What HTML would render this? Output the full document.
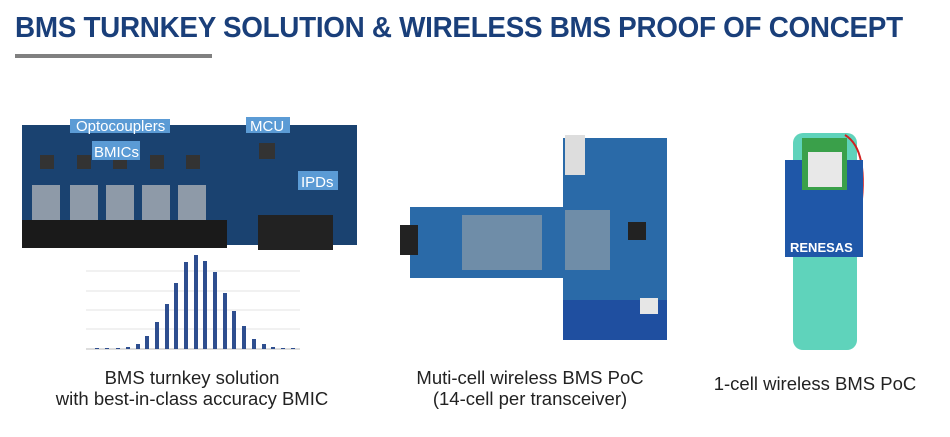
<!DOCTYPE html>
<html><head><style>
body{margin:0;width:950px;height:437px;background:#fff;overflow:hidden;position:relative;font-family:"Liberation Sans",sans-serif}
.t{position:absolute;left:15px;top:12px;font-weight:bold;font-size:29px;color:#1a3f7a;transform:scaleX(0.96);transform-origin:left top;white-space:nowrap;letter-spacing:-0.3px}
.u{position:absolute;left:15px;top:54px;width:197px;height:4px;background:#808080}
.c{position:absolute;font-size:18.5px;color:#222;text-align:center;line-height:21px}
</style></head><body>
<div class="t">BMS TURNKEY SOLUTION &amp; WIRELESS BMS PROOF OF CONCEPT</div>
<div class="u"></div>
<svg width="950" height="437" style="position:absolute;left:0;top:0">
<rect x="22" y="125" width="335" height="120" fill="#1a4270"/>
<rect x="22" y="220" width="205" height="28" fill="#1a1a1a"/>
<rect x="258" y="215" width="75" height="35" fill="#222"/>
<g fill="#8e9aa8">
<rect x="32" y="185" width="28" height="35"/><rect x="70" y="185" width="28" height="35"/><rect x="106" y="185" width="28" height="35"/><rect x="142" y="185" width="28" height="35"/><rect x="178" y="185" width="28" height="35"/></g>
<g fill="#333"><rect x="40" y="155" width="14" height="14"/><rect x="77" y="155" width="14" height="14"/><rect x="113" y="155" width="14" height="14"/><rect x="150" y="155" width="14" height="14"/><rect x="186" y="155" width="14" height="14"/><rect x="259" y="143" width="16" height="16"/></g>
<rect x="70" y="119" width="100" height="14" fill="#5b9bd5"/>
<rect x="92" y="141" width="48" height="19" fill="#5b9bd5"/>
<rect x="246" y="117" width="44" height="16" fill="#5b9bd5"/>
<rect x="298" y="171" width="40" height="19" fill="#5b9bd5"/>
<g font-family="Liberation Sans" font-size="15" fill="#fff">
<text x="76" y="131">Optocouplers</text><text x="94" y="157">BMICs</text><text x="250" y="131">MCU</text><text x="301" y="187">IPDs</text></g>
<g stroke="#e3e3e3"><line x1="86" y1="271" x2="300" y2="271"/><line x1="86" y1="291" x2="300" y2="291"/><line x1="86" y1="310" x2="300" y2="310"/><line x1="86" y1="329" x2="300" y2="329"/><line x1="86" y1="349" x2="300" y2="349" stroke="#bbb"/></g>
<g fill="#2e4e8f">
<rect x="95" y="348" width="4" height="1"/><rect x="105" y="348" width="4" height="1"/><rect x="116" y="348" width="4" height="1"/><rect x="126" y="347" width="4" height="2"/><rect x="136" y="344" width="4" height="5"/><rect x="145" y="336" width="4" height="13"/><rect x="155" y="322" width="4" height="27"/><rect x="165" y="304" width="4" height="45"/><rect x="174" y="283" width="4" height="66"/><rect x="184" y="262" width="4" height="87"/><rect x="194" y="255" width="4" height="94"/><rect x="203" y="261" width="4" height="88"/><rect x="213" y="272" width="4" height="77"/><rect x="223" y="293" width="4" height="56"/><rect x="232" y="311" width="4" height="38"/><rect x="242" y="326" width="4" height="23"/><rect x="252" y="339" width="4" height="10"/><rect x="262" y="344" width="4" height="5"/><rect x="271" y="347" width="4" height="2"/><rect x="281" y="348" width="4" height="1"/><rect x="291" y="348" width="4" height="1"/></g>
<rect x="410" y="207" width="160" height="71" fill="#2a6aa8"/>
<rect x="563" y="138" width="104" height="202" fill="#2a6aa8"/>
<rect x="563" y="300" width="104" height="40" fill="#1f4fa0"/>
<rect x="565" y="135" width="20" height="40" fill="#ddd"/>
<rect x="400" y="225" width="18" height="30" fill="#222"/>
<rect x="462" y="215" width="80" height="55" fill="#6f8da8"/>
<rect x="565" y="210" width="45" height="60" fill="#6f8da8"/>
<rect x="628" y="222" width="18" height="18" fill="#222"/>
<rect x="640" y="298" width="18" height="16" fill="#e6e6e6"/>
<rect x="793" y="133" width="64" height="217" rx="10" fill="#5fd3bb"/>
<path d="M845 135 Q870 150 860 215" stroke="#d02020" stroke-width="2" fill="none"/>
<rect x="785" y="160" width="78" height="97" fill="#1f57a8"/>
<rect x="802" y="138" width="45" height="52" fill="#3aa04a"/>
<rect x="808" y="152" width="34" height="35" fill="#e8e8e8"/>
<text x="790" y="252" font-family="Liberation Sans" font-weight="bold" font-size="13" fill="#fff">RENESAS</text>
</svg>
<div class="c" style="left:42px;top:367px;width:300px">BMS turnkey solution<br>with best-in-class accuracy BMIC</div>
<div class="c" style="left:380px;top:367px;width:300px">Muti-cell wireless BMS PoC<br>(14-cell per transceiver)</div>
<div class="c" style="left:665px;top:373px;width:300px">1-cell wireless BMS PoC</div>
</body></html>
